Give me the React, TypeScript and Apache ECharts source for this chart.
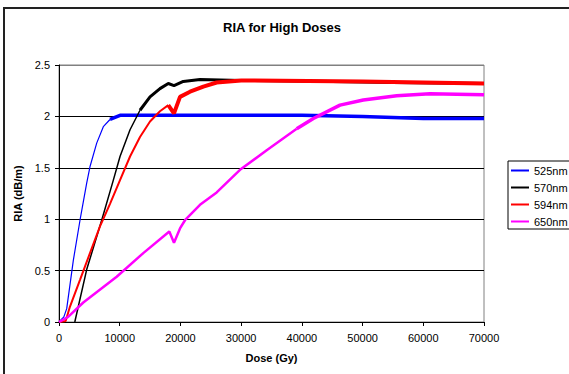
import React, { useEffect, useRef } from "react";
import * as echarts from "echarts";

// Dose (Gy) vs RIA (dB/m)
const names = ["525nm", "570nm", "594nm", "650nm"];

const ria525: [number, number][] = [
  [0, 0], [800, 0.05], [1270, 0.13], [2360, 0.6], [3460, 0.99], [4560, 1.35],
  [5100, 1.51], [6210, 1.74], [7300, 1.9], [8400, 1.97], [10050, 2.01],
  [20000, 2.01], [30000, 2.01], [40000, 2.01], [50000, 2.0], [60000, 1.98], [70000, 1.98],
];

const ria570: [number, number][] = [
  [2600, 0], [4560, 0.51], [7030, 0.99], [8950, 1.38], [10050, 1.61], [11700, 1.87],
  [13340, 2.06], [14990, 2.19], [16630, 2.27], [18000, 2.32], [18940, 2.3],
  [20470, 2.34], [23220, 2.36], [30000, 2.35], [45000, 2.34], [55000, 2.33], [70000, 2.32],
];

const ria594: [number, number][] = [
  [0, 0], [1100, 0.01], [1810, 0.15], [3460, 0.41], [5100, 0.67], [6750, 0.93],
  [8400, 1.15], [10050, 1.38], [11700, 1.61], [13340, 1.8], [14990, 1.95],
  [16630, 2.05], [18000, 2.11], [18940, 2.03], [19930, 2.19], [21580, 2.24],
  [23770, 2.29], [25970, 2.33], [30000, 2.35], [50000, 2.34], [60000, 2.33], [70000, 2.32],
];

const ria650: [number, number][] = [
  [0, 0], [1500, 0.05], [4000, 0.19], [9500, 0.44], [13880, 0.67], [18170, 0.88],
  [18940, 0.77], [19930, 0.91], [20750, 0.99], [23220, 1.14], [25970, 1.26],
  [29810, 1.48], [34210, 1.67], [39150, 1.88], [41890, 1.98], [46280, 2.11],
  [50120, 2.16], [55620, 2.2], [61100, 2.22], [70000, 2.21],
];

const allData = [ria525, ria570, ria594, ria650];
const colors = ["#0000FF", "#000000", "#FF0000", "#FF00FF"];
// thin ramp, thick noisy plateau
const rampWidths = [1.2, 1.5, 2, 2.5];
const plateauWidths = [3.5, 3, 4, 3.5];
const plateauFrom = [8400, 13340, 18000, 39150];

const xTicks = [0, 10000, 20000, 30000, 40000, 50000, 60000, 70000];

const FONT = "'Liberation Sans', Arial, sans-serif";

export default function App() {
  const ref = useRef<HTMLDivElement>(null);
  useEffect(() => {
    if (!ref.current) return;
    const chart = echarts.init(ref.current, null, { renderer: "svg" });
    const series: any[] = [];
    allData.forEach((d, i) => {
      const ramp = d.filter((p) => p[0] <= plateauFrom[i]);
      const plateau = d.filter((p) => p[0] >= plateauFrom[i]);
      series.push({
        name: names[i], type: "line", data: ramp, symbol: "none", showSymbol: false,
        lineStyle: { color: colors[i], width: rampWidths[i] }, itemStyle: { color: colors[i] },
      });
      series.push({
        name: names[i], type: "line", data: plateau, symbol: "none", showSymbol: false,
        lineStyle: { color: colors[i], width: plateauWidths[i] }, itemStyle: { color: colors[i] },
      });
    });
    chart.setOption({
      animation: false,
      backgroundColor: "#fff",
      textStyle: { fontFamily: FONT },
      title: {
        text: "RIA for High Doses", left: 223, top: 21, padding: 0,
        textStyle: { fontSize: 13, fontWeight: "bold", color: "#000", fontFamily: FONT },
      },
      graphic: [
        {
          type: "rect", x: 4, y: 8, silent: true, z: -10,
          shape: { x: 0, y: 0, width: 620, height: 420 },
          style: { fill: "none", stroke: "#222", lineWidth: 2 },
        },
      ],
      grid: { left: 59, top: 65, right: 85, bottom: 52, show: true, borderColor: "#808080", borderWidth: 1 },
      legend: {
        orient: "vertical", left: 508, top: 161, padding: [3, 8, 1, 3],
        itemGap: 4, itemWidth: 18, itemHeight: 2,
        borderColor: "#000", borderWidth: 1, backgroundColor: "#fff",
        textStyle: { fontSize: 11, lineHeight: 13, color: "#000", fontFamily: FONT },
        data: names.map((n, i) => ({
          name: n, icon: "rect",
          itemStyle: { color: colors[i] },
        })),
      },
      xAxis: {
        type: "value", min: xTicks[0], max: xTicks[xTicks.length - 1], interval: 10000,
        name: "Dose (Gy)", nameLocation: "middle", nameGap: 30,
        nameTextStyle: { fontWeight: "bold", fontSize: 11, color: "#000", fontFamily: FONT },
        axisLine: { show: true, onZero: false, lineStyle: { color: "#000" } },
        axisTick: { show: true, length: 4, lineStyle: { color: "#000" } },
        axisLabel: { fontSize: 11, color: "#000", margin: 10, formatter: (v: number) => String(v), fontFamily: FONT },
        splitLine: { show: false },
      },
      yAxis: {
        type: "value", min: 0, max: 2.5, interval: 0.5,
        name: "RIA (dB/m)", nameLocation: "middle", nameGap: 24, nameRotate: 90,
        nameTextStyle: { fontWeight: "bold", fontSize: 11, color: "#000", fontFamily: FONT },
        axisLine: { show: true, onZero: false, lineStyle: { color: "#000" } },
        axisTick: { show: true, length: 4, lineStyle: { color: "#000" } },
        axisLabel: { fontSize: 11, color: "#000", margin: 9, fontFamily: FONT },
        splitLine: { show: true, lineStyle: { color: ["#000", "#000", "#000", "#000", "#000", "#808080"], width: 1 } },
      },
      series,
    });
    return () => chart.dispose();
  }, []);
  return <div ref={ref} style={{ position: "fixed", left: 0, top: 0, width: 569, height: 374 }} />;
}
